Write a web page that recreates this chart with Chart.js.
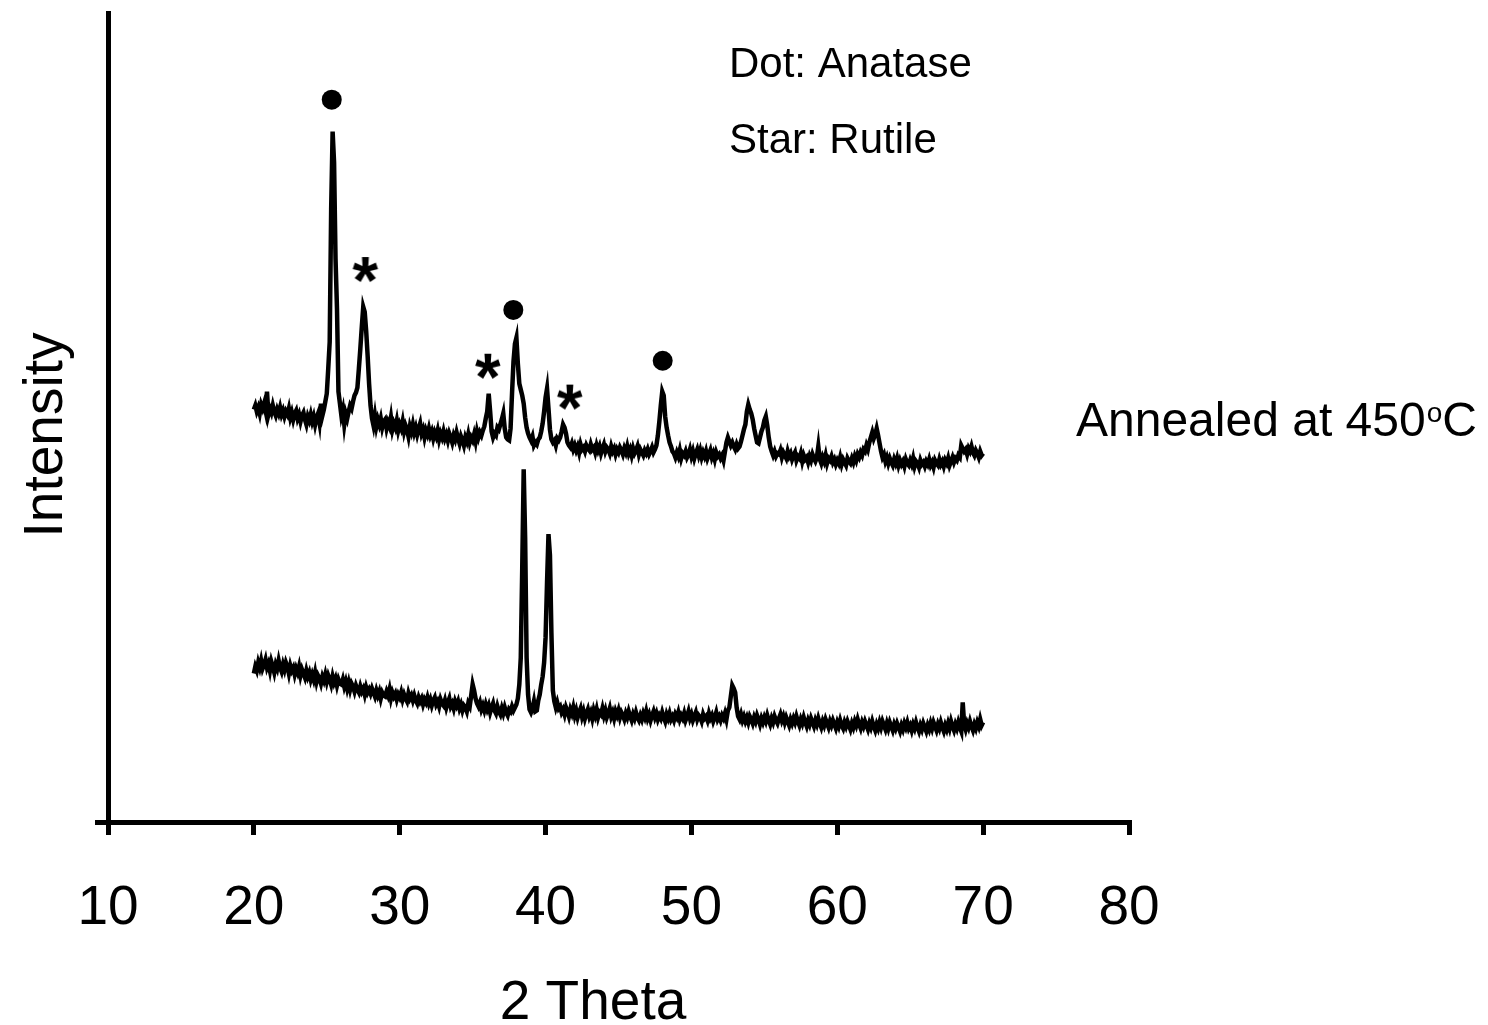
<!DOCTYPE html>
<html><head><meta charset="utf-8">
<script src="https://cdn.jsdelivr.net/npm/chart.js@4.4.1/dist/chart.umd.min.js"></script>
<style>html,body{margin:0;padding:0;background:#fff;overflow:hidden}#wrap{width:1488px;height:1025px}</style>
</head><body><div id="wrap"><canvas id="c" width="1488" height="1025"></canvas></div>
<script>
// 2-theta sampling positions (degrees)
const thetaGrid = [
20.0,20.1,20.2,20.3,20.4,20.5,20.6,20.7,20.8,20.9,
21.0,21.1,21.2,21.3,21.4,21.5,21.6,21.7,21.8,21.9,
22.0,22.1,22.2,22.3,22.4,22.5,22.6,22.7,22.8,22.9,
23.0,23.1,23.2,23.3,23.4,23.5,23.6,23.7,23.8,23.9,
24.0,24.1,24.2,24.3,24.4,24.5,24.6,24.7,24.8,24.9,
25.0,25.1,25.2,25.3,25.4,25.5,25.6,25.7,25.8,25.9,
26.0,26.1,26.2,26.3,26.4,26.5,26.6,26.7,26.8,26.9,
27.0,27.1,27.2,27.3,27.4,27.5,27.6,27.7,27.8,27.9,
28.0,28.1,28.2,28.3,28.4,28.5,28.6,28.7,28.8,28.9,
29.0,29.1,29.2,29.3,29.4,29.5,29.6,29.7,29.8,29.9,
30.0,30.1,30.2,30.3,30.4,30.5,30.6,30.7,30.8,30.9,
31.0,31.1,31.2,31.3,31.4,31.5,31.6,31.7,31.8,31.9,
32.0,32.1,32.2,32.3,32.4,32.5,32.6,32.7,32.8,32.9,
33.0,33.1,33.2,33.3,33.4,33.5,33.6,33.7,33.8,33.9,
34.0,34.1,34.2,34.3,34.4,34.5,34.6,34.7,34.8,34.9,
35.0,35.1,35.2,35.3,35.4,35.5,35.6,35.7,35.8,35.9,
36.0,36.1,36.2,36.3,36.4,36.5,36.6,36.7,36.8,36.9,
37.0,37.1,37.2,37.3,37.4,37.5,37.6,37.7,37.8,37.9,
38.0,38.1,38.2,38.3,38.4,38.5,38.6,38.7,38.8,38.9,
39.0,39.1,39.2,39.3,39.4,39.5,39.6,39.7,39.8,39.9,
40.0,40.1,40.2,40.3,40.4,40.5,40.6,40.7,40.8,40.9,
41.0,41.1,41.2,41.3,41.4,41.5,41.6,41.7,41.8,41.9,
42.0,42.1,42.2,42.3,42.4,42.5,42.6,42.7,42.8,42.9,
43.0,43.1,43.2,43.3,43.4,43.5,43.6,43.7,43.8,43.9,
44.0,44.1,44.2,44.3,44.4,44.5,44.6,44.7,44.8,44.9,
45.0,45.1,45.2,45.3,45.4,45.5,45.6,45.7,45.8,45.9,
46.0,46.1,46.2,46.3,46.4,46.5,46.6,46.7,46.8,46.9,
47.0,47.1,47.2,47.3,47.4,47.5,47.6,47.7,47.8,47.9,
48.0,48.1,48.2,48.3,48.4,48.5,48.6,48.7,48.8,48.9,
49.0,49.1,49.2,49.3,49.4,49.5,49.6,49.7,49.8,49.9,
50.0,50.1,50.2,50.3,50.4,50.5,50.6,50.7,50.8,50.9,
51.0,51.1,51.2,51.3,51.4,51.5,51.6,51.7,51.8,51.9,
52.0,52.1,52.2,52.3,52.4,52.5,52.6,52.7,52.8,52.9,
53.0,53.1,53.2,53.3,53.4,53.5,53.6,53.7,53.8,53.9,
54.0,54.1,54.2,54.3,54.4,54.5,54.6,54.7,54.8,54.9,
55.0,55.1,55.2,55.3,55.4,55.5,55.6,55.7,55.8,55.9,
56.0,56.1,56.2,56.3,56.4,56.5,56.6,56.7,56.8,56.9,
57.0,57.1,57.2,57.3,57.4,57.5,57.6,57.7,57.8,57.9,
58.0,58.1,58.2,58.3,58.4,58.5,58.6,58.7,58.8,58.9,
59.0,59.1,59.2,59.3,59.4,59.5,59.6,59.7,59.8,59.9,
60.0,60.1,60.2,60.3,60.4,60.5,60.6,60.7,60.8,60.9,
61.0,61.1,61.2,61.3,61.4,61.5,61.6,61.7,61.8,61.9,
62.0,62.1,62.2,62.3,62.4,62.5,62.6,62.7,62.8,62.9,
63.0,63.1,63.2,63.3,63.4,63.5,63.6,63.7,63.8,63.9,
64.0,64.1,64.2,64.3,64.4,64.5,64.6,64.7,64.8,64.9,
65.0,65.1,65.2,65.3,65.4,65.5,65.6,65.7,65.8,65.9,
66.0,66.1,66.2,66.3,66.4,66.5,66.6,66.7,66.8,66.9,
67.0,67.1,67.2,67.3,67.4,67.5,67.6,67.7,67.8,67.9,
68.0,68.1,68.2,68.3,68.4,68.5,68.6,68.7,68.8,68.9,
69.0,69.1,69.2,69.3,69.4,69.5,69.6,69.7,69.8,69.9,
70.0];

// Upper trace: annealed at 450 oC (arbitrary intensity units, offset)
const annealedIntensity = [
414,418,412,416,410,419,415,420,413,432,
409,415,411,418,412,408,414,410,416,409,
413,407,412,409,415,406,411,404,410,413,
405,409,402,408,411,404,399,407,403,409,
402,407,399,406,410,401,420,408,414,422,
430,455,482,615,693,662,565,515,432,420,
408,414,399,410,405,412,418,415,422,428,
431,436,455,475,497,517,512,493,468,440,
418,405,398,408,397,404,399,405,396,402,
404,395,401,397,406,394,400,396,403,393,
399,395,402,392,398,394,387,397,392,399,
391,396,389,395,400,390,394,386,393,389,
395,388,392,385,391,387,393,384,390,386,
392,385,389,383,390,386,381,388,384,391,
385,380,387,383,378,386,382,389,381,386,
383,389,382,392,386,391,388,393,397,405,
412,430,412,392,386,390,388,396,394,399,
404,410,395,386,384,383,395,430,462,480,
486,460,440,434,428,420,406,396,390,386,
383,387,378,381,379,384,386,392,400,412,
426,435,415,394,384,381,383,378,385,383,
386,392,399,396,390,381,378,376,380,374,
378,373,377,371,379,374,376,372,378,375,
373,379,374,376,371,378,373,377,370,375,
379,372,376,374,370,377,372,375,369,374,
371,376,373,369,375,371,377,370,374,368,
375,370,373,377,369,374,371,368,373,370,
374,369,372,376,371,374,378,388,402,418,
432,428,407,396,388,381,377,372,370,366,
371,367,373,365,370,368,372,366,369,374,
367,372,365,370,374,368,373,366,371,367,
372,365,369,373,366,370,364,371,367,369,
365,368,363,372,381,386,382,378,381,377,
374,379,375,377,382,388,394,399,412,419,
414,410,404,395,388,381,380,386,392,396,
403,407,398,386,377,372,368,372,367,370,
369,373,366,371,368,365,372,367,370,364,
368,371,363,367,365,370,362,368,364,366,
361,367,363,369,365,362,366,377,364,360,
366,362,368,360,365,363,367,361,364,359,
363,360,366,359,364,361,358,365,362,360,
365,361,367,363,369,366,371,368,374,372,
378,374,381,386,391,385,389,395,388,380,
372,366,369,362,366,360,365,361,358,364,
360,365,358,363,359,362,357,364,360,358,
363,359,365,357,362,360,356,363,359,361,
357,362,359,364,358,361,356,363,360,358,
364,359,362,357,363,360,365,358,362,366,
361,365,363,368,366,378,375,372,374,369,
375,372,377,371,368,373,370,366,372,368,
370];

// Lower trace (arbitrary intensity units)
const lowerIntensity = [
149,156,152,160,155,162,154,158,163,155,
159,152,161,156,150,158,154,162,155,151,
158,153,160,156,149,157,152,155,148,154,
150,156,147,153,149,145,152,146,150,143,
148,143,150,141,147,144,139,146,142,148,
141,147,143,138,146,140,144,137,143,139,
138,143,136,141,134,140,133,139,136,131,
137,133,130,136,131,134,128,135,130,133,
129,134,130,126,132,127,131,124,130,127,
126,131,127,133,124,130,126,129,123,128,
125,130,123,128,124,121,129,124,127,122,
127,122,119,125,121,124,118,123,120,125,
119,123,117,122,125,118,121,116,123,119,
117,122,115,120,124,116,119,114,121,117,
121,114,118,112,117,115,111,119,116,127,
138,132,124,119,116,120,113,117,112,118,
113,117,110,115,119,112,109,116,111,108,
114,109,115,110,107,113,111,116,112,115,
118,124,138,165,255,354,285,165,128,113,
110,114,121,111,112,122,128,138,146,160,
185,240,289,268,190,132,121,115,120,114,
116,110,113,108,115,111,106,113,109,115,
107,112,105,110,114,106,111,104,109,113,
106,110,104,112,107,113,105,110,108,114,
107,112,105,109,114,106,110,104,111,107,
112,105,110,107,103,109,105,111,106,102,
108,104,110,105,102,107,103,109,105,111,
104,108,102,107,111,105,109,103,107,104,
110,105,101,108,104,109,103,106,102,108,
105,110,103,107,104,109,102,106,111,104,
108,102,106,110,103,107,105,101,108,104,
106,102,109,104,107,101,105,110,103,106,
102,107,104,109,103,112,115,126,137,134,
130,115,106,103,108,102,106,101,105,100,
106,103,99,105,101,107,103,98,104,100,
105,101,107,102,98,104,100,106,102,99,
104,108,102,106,100,105,101,97,103,99,
104,100,106,101,97,103,99,105,100,96,
102,98,104,100,96,102,98,104,99,95,
101,97,103,99,95,101,97,102,98,94,
100,96,102,97,94,100,96,101,97,93,
99,95,101,97,103,98,94,100,96,101,
97,93,99,95,101,96,92,98,94,100,
95,101,97,93,99,94,100,96,92,98,
94,99,95,91,97,93,99,95,100,94,
97,92,98,94,100,95,91,97,93,99,
95,91,97,93,99,94,100,96,92,98,
94,100,95,91,97,93,99,94,101,96,
92,98,94,100,95,91,120,98,93,99,
95,101,96,92,98,94,100,96,103,97,
100];

// Phase markers
const dotTheta = [25.34, 37.79, 48.03];      // Anatase
const dotIntensity = [725, 514, 463];
const starTheta = [27.65, 36.05, 41.67];     // Rutile
const starIntensity = [555, 458, 427];

const xTickValues = [10, 20, 30, 40, 50, 60, 70, 80];
const xMin = 10, xMax = 80, yMin = 0, yMax = 812;

const FONT = "'Liberation Sans', Arial, Helvetica, sans-serif";
Chart.defaults.font.family = FONT;
Chart.defaults.color = '#000';

const toPoints = (xs, ys) => xs.map((x, i) => ({x: x, y: ys[i]}));

function makeStarImage() {
  const c = document.createElement('canvas');
  c.width = 46; c.height = 46;
  const g = c.getContext('2d');
  g.font = 'bold 100px ' + FONT;
  let m = g.measureText('*');
  let h = m.actualBoundingBoxAscent + m.actualBoundingBoxDescent;
  const size = 100 * 25 / h;
  g.font = 'bold ' + size + 'px ' + FONT;
  m = g.measureText('*');
  h = m.actualBoundingBoxAscent + m.actualBoundingBoxDescent;
  const w = m.actualBoundingBoxLeft + m.actualBoundingBoxRight;
  g.fillStyle = '#000';
  g.textAlign = 'left';
  g.textBaseline = 'alphabetic';
  g.fillText('*', 23 - w / 2 + m.actualBoundingBoxLeft, 23 - h / 2 + m.actualBoundingBoxAscent);
  return c;
}

const textPlugin = {
  id: 'annotTexts',
  afterDraw(chart) {
    const ctx = chart.ctx;
    ctx.save();
    ctx.fillStyle = '#000';
    ctx.textAlign = 'left';
    ctx.textBaseline = 'alphabetic';
    ctx.font = '42px ' + FONT;
    ctx.fillText('Dot: Anatase', 729, 77);
    ctx.fillText('Star: Rutile', 729, 153);
    ctx.font = '48px ' + FONT;
    const base = 'Annealed at 450';
    ctx.fillText(base, 1076, 436);
    let x = 1076 + ctx.measureText(base).width;
    ctx.font = '28px ' + FONT;
    ctx.fillText('o', x + 1, 422);
    x += ctx.measureText('o').width + 1;
    ctx.font = '48px ' + FONT;
    ctx.fillText('C', x, 436);
    ctx.font = '55px ' + FONT;
    ctx.textAlign = 'center';
    ctx.fillText('2 Theta', 593, 1019);
    ctx.translate(62, 435);
    ctx.rotate(-Math.PI / 2);
    ctx.fillText('Intensity', 0, 0);
    ctx.restore();
  }
};

const axisGrid = { display: true, drawOnChartArea: false, drawTicks: true, tickLength: 13, lineWidth: 5, color: '#000' };
const axisBorder = { display: true, color: '#000', width: 5 };

new Chart(document.getElementById('c'), {
  type: 'line',
  data: {
    datasets: [
      { label: 'Annealed at 450 oC', data: toPoints(thetaGrid, annealedIntensity), borderColor: '#000', borderWidth: 4.5, pointRadius: 0, tension: 0, fill: false },
      { label: 'Lower', data: toPoints(thetaGrid, lowerIntensity), borderColor: '#000', borderWidth: 4.5, pointRadius: 0, tension: 0, fill: false },
      { label: 'Anatase', type: 'scatter', data: toPoints(dotTheta, dotIntensity), showLine: false, pointStyle: 'circle', pointRadius: 10, backgroundColor: '#000', borderColor: '#000', borderWidth: 0 },
      { label: 'Rutile', type: 'scatter', data: toPoints(starTheta, starIntensity), showLine: false, pointStyle: makeStarImage(), pointRadius: 12, backgroundColor: '#000', borderColor: '#000' }
    ]
  },
  options: {
    responsive: false,
    animation: false,
    events: [],
    layout: { padding: { top: 10, right: 359, left: 0, bottom: 0 } },
    plugins: { legend: { display: false }, tooltip: { enabled: false } },
    scales: {
      x: {
        type: 'linear', min: xMin, max: xMax,
        afterBuildTicks: s => { s.ticks = xTickValues.map(v => ({value: v})); },
        afterFit: s => { s.height = 203; },
        grid: axisGrid, border: axisBorder,
        ticks: { font: { size: 55 }, color: '#000', padding: 41, maxRotation: 0, autoSkip: false },
        title: { display: false }
      },
      y: {
        type: 'linear', min: yMin, max: yMax,
        afterBuildTicks: s => { s.ticks = [{value: yMin}]; },
        afterFit: s => { s.width = 108; },
        grid: axisGrid, border: axisBorder,
        ticks: { display: false },
        title: { display: false }
      }
    }
  },
  plugins: [textPlugin]
});
</script>
</body></html>
